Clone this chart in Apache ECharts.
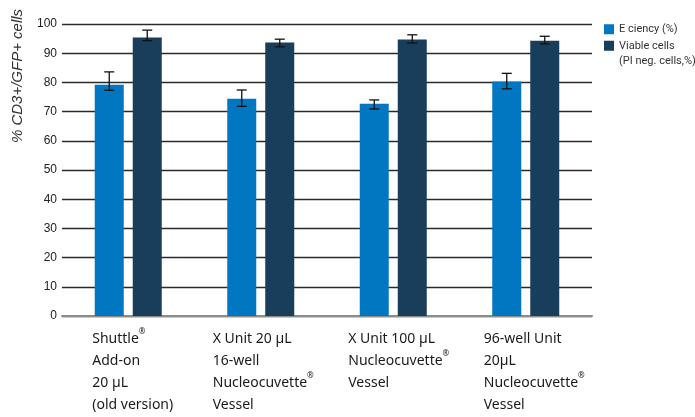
<!DOCTYPE html>
<html>
<head>
<meta charset="utf-8">
<script src="https://cdn.jsdelivr.net/npm/echarts@6/dist/echarts.min.js"></script>
<style>
  html, body { margin: 0; padding: 0; background: #fff; }
  #chart { width: 695px; height: 417px; }
</style>
</head>
<body>
<div id="chart"></div>
<script>
// categories (x axis), ® is handled in the label formatter
const categories = [
  'Shuttle®\nAdd-on\n20 µL\n(old version)',
  'X Unit 20 µL\n16-well\nNucleocuvette®\nVessel',
  'X Unit 100 µL\nNucleocuvette®\nVessel',
  '96-well Unit\n20µL\nNucleocuvette®\nVessel'
];
const seriesNames = ['E ciency (%)', 'Viable cells'];
const legendNote = '(PI neg. cells,%)'; // second line of the viable cells legend entry

const efficiency = [79.2, 74.4, 72.7, 80.3];
const efficiencyLow = [77.3, 71.8, 70.9, 77.8];
const efficiencyHigh = [83.6, 77.4, 74.0, 83.1];

const viability = [95.4, 93.7, 94.7, 94.3];
const viabilityLow = [94.3, 92.2, 93.5, 93.2];
const viabilityHigh = [97.9, 94.8, 96.3, 95.8];

const yTicks = [0, 100, 10]; // min, max, interval

const BAR_W = 29;
const BAR_GAP = 9;

const chart = echarts.init(document.getElementById('chart'));

// error bar drawn for one series, shifted to sit on its bar
const errorSeries = (low, high, shift) => ({
  type: 'custom',
  z: 10,
  silent: true,
  data: low.map((v, i) => [i, v, high[i]]),
  encode: { x: 0, y: [1, 2] },
  renderItem: (params, api) => {
    const lo = api.coord([api.value(0), api.value(1)]);
    const hi = api.coord([api.value(0), api.value(2)]);
    const x = lo[0] + shift;
    const cap = 5;
    const style = { stroke: '#111', lineWidth: 1.3 };
    return {
      type: 'group',
      children: [
        { type: 'line', shape: { x1: x, y1: lo[1], x2: x, y2: hi[1] }, style },
        { type: 'line', shape: { x1: x - cap, y1: lo[1], x2: x + cap, y2: lo[1] }, style },
        { type: 'line', shape: { x1: x - cap, y1: hi[1], x2: x + cap, y2: hi[1] }, style }
      ]
    };
  }
});

const shift = (BAR_W + BAR_GAP) / 2;
const labelShift = [-36, -48, -45, -42];

chart.setOption({
  animation: false,
  textStyle: { fontFamily: 'Liberation Sans' },
  grid: { left: 62, right: 103, top: 24, bottom: 101 },
  legend: {
    orient: 'vertical',
    left: 599,
    top: 16,
    itemWidth: 10,
    itemHeight: 10,
    itemGap: 0,
    icon: 'rect',
    data: seriesNames,
    textStyle: { fontFamily: 'Roboto', fontSize: 11, color: '#333', lineHeight: 16.5 }
  },
  graphic: [
    {
      type: 'text',
      x: 18,
      y: 76,
      rotation: Math.PI / 2,
      style: {
        text: '% CD3+/GFP+ cells',
        font: 'italic 15px "Liberation Sans"',
        fill: '#333',
        align: 'center',
        verticalAlign: 'middle'
      }
    },
    {
      type: 'text',
      x: 619,
      y: 61,
      style: {
        text: legendNote,
        font: '11px Roboto',
        fill: '#333',
        align: 'left',
        verticalAlign: 'middle'
      }
    }
  ],
  xAxis: {
    type: 'category',
    data: categories.map((c, i) => ({
      value: c,
      textStyle: { align: 'left', padding: [0, 0, 0, labelShift[i]] }
    })),
    axisLine: { lineStyle: { color: '#8c8c8c', width: 2 } },
    axisTick: { show: false },
    axisLabel: {
      interval: 0,
      align: 'left',
      margin: 12,
      color: '#1a1a1a',
      fontFamily: 'Noto Sans',
      fontSize: 14,
      lineHeight: 22,
      formatter: v => v.split('®').join('{sup|®}'),
      rich: {
        sup: { fontSize: 8, verticalAlign: 'top', padding: [0, 0, 6, 0], color: '#1a1a1a' }
      }
    }
  },
  yAxis: {
    type: 'value',
    min: yTicks[0],
    max: yTicks[1],
    interval: yTicks[2],
    axisLine: { show: false },
    axisTick: { show: false },
    axisLabel: { color: '#222', fontSize: 12, margin: 5 },
    splitLine: { lineStyle: { color: '#2a2a2a', width: 1.3 } }
  },
  series: [
    {
      name: seriesNames[0],
      type: 'bar',
      data: efficiency,
      barWidth: BAR_W,
      barGap: (BAR_GAP / BAR_W * 100) + '%',
      itemStyle: { color: '#0077c0' }
    },
    {
      name: seriesNames[1],
      type: 'bar',
      data: viability,
      barWidth: BAR_W,
      itemStyle: { color: '#193e5b' }
    },
    errorSeries(efficiencyLow, efficiencyHigh, -shift),
    errorSeries(viabilityLow, viabilityHigh, shift)
  ]
});
</script>
</body>
</html>
